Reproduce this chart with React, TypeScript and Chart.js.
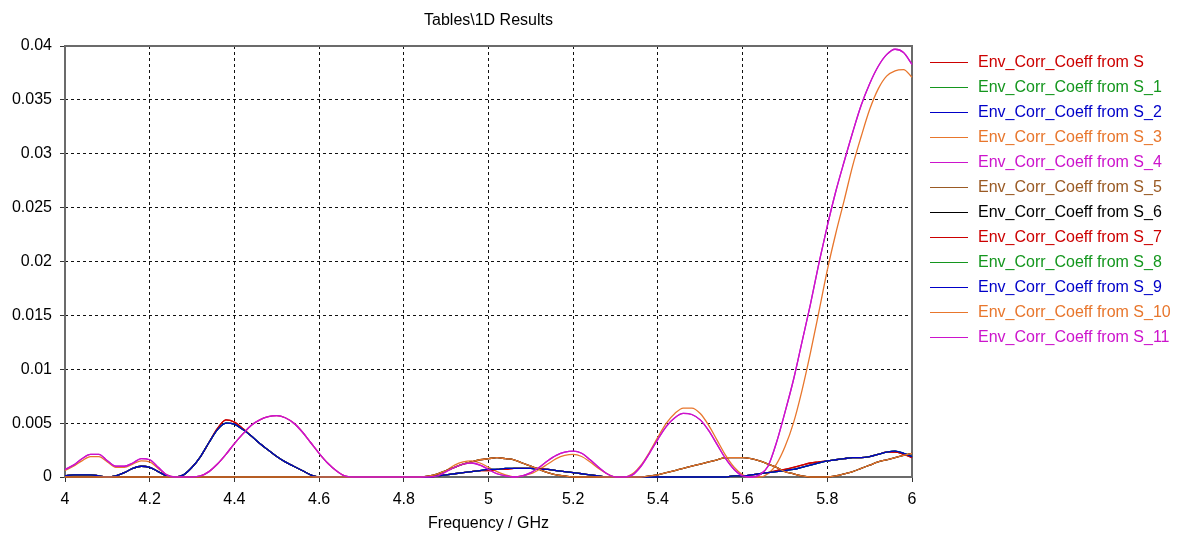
import React, { useEffect, useRef } from 'react';
import { Chart, registerables } from 'chart.js';

Chart.register(...registerables);

const TITLE = 'Tables\\1D Results';
const X_TITLE = 'Frequency / GHz';

const FREQ_GHZ = [
  4.0, 4.02, 4.04, 4.06, 4.08, 4.1, 4.12, 4.14, 4.16, 4.18,
  4.2, 4.22, 4.24, 4.26, 4.28, 4.3, 4.32, 4.34, 4.36, 4.38,
  4.4, 4.42, 4.44, 4.46, 4.48, 4.5, 4.52, 4.54, 4.56, 4.58,
  4.6, 4.62, 4.64, 4.66, 4.68, 4.7, 4.72, 4.74, 4.76, 4.78,
  4.8, 4.82, 4.84, 4.86, 4.88, 4.9, 4.92, 4.94, 4.96, 4.98,
  5.0, 5.02, 5.04, 5.06, 5.08, 5.1, 5.12, 5.14, 5.16, 5.18,
  5.2, 5.22, 5.24, 5.26, 5.28, 5.3, 5.32, 5.34, 5.36, 5.38,
  5.4, 5.42, 5.44, 5.46, 5.48, 5.5, 5.52, 5.54, 5.56, 5.58,
  5.6, 5.62, 5.64, 5.66, 5.68, 5.7, 5.72, 5.74, 5.76, 5.78,
  5.8, 5.82, 5.84, 5.86, 5.88, 5.9, 5.92, 5.94, 5.96, 5.98,
  6.0,
];

const ECC_MAGENTA = [
  0.0007, 0.0011, 0.0017, 0.0021, 0.0021, 0.0015, 0.0010, 0.0010, 0.0013, 0.0017,
  0.0016, 0.0009, 0.0002, 0, 0, 0, 0.0001, 0.0005, 0.0012, 0.0021,
  0.0031, 0.0040, 0.0048, 0.0053, 0.0056, 0.0057, 0.0055, 0.0050, 0.0042, 0.0032,
  0.0022, 0.0013, 0.0006, 0.0001, 0, 0, 0, 0, 0, 0,
  0, 0, 0, 0, 0.0001, 0.0005, 0.0009, 0.0012, 0.0013, 0.0011,
  0.0007, 0.0003, 0.0001, 0, 0.0001, 0.0004, 0.0009, 0.0015, 0.0020, 0.0023,
  0.0024, 0.0022, 0.0016, 0.0009, 0.0003, 0, 0, 0.0002, 0.0010, 0.0022,
  0.0035, 0.0047, 0.0055, 0.0059, 0.0058, 0.0053, 0.0043, 0.0030, 0.0017, 0.0007,
  0.0001, 0, 0.0002, 0.0010, 0.0032, 0.0060, 0.0090, 0.0125, 0.0160, 0.0198,
  0.0233, 0.0265, 0.0293, 0.0320, 0.0345, 0.0365, 0.0381, 0.0392, 0.0397, 0.0394,
  0.0383,
];

const ECC_ORANGE = [
  0.0006, 0.0010, 0.0015, 0.0019, 0.0019, 0.0014, 0.0009, 0.0009, 0.0012, 0.0015,
  0.0014, 0.0008, 0.0002, 0, 0, 0, 0.0001, 0.0005, 0.0012, 0.0021,
  0.0031, 0.0040, 0.0048, 0.0053, 0.0056, 0.0057, 0.0055, 0.0050, 0.0042, 0.0032,
  0.0022, 0.0013, 0.0006, 0.0001, 0, 0, 0, 0, 0, 0,
  0, 0, 0, 0, 0.0002, 0.0006, 0.0011, 0.0014, 0.0015, 0.0013,
  0.0009, 0.0005, 0.0002, 0, 0.0001, 0.0003, 0.0007, 0.0012, 0.0017, 0.0020,
  0.0021, 0.0019, 0.0014, 0.0008, 0.0003, 0, 0, 0.0003, 0.0011, 0.0023,
  0.0037, 0.0050, 0.0059, 0.0064, 0.0064, 0.0059, 0.0048, 0.0034, 0.0020, 0.0009,
  0.0002, 0, 0, 0.0003, 0.0012, 0.0028, 0.0050, 0.0080, 0.0115, 0.0153,
  0.0192, 0.0226, 0.0257, 0.0289, 0.0316, 0.0341, 0.0360, 0.0372, 0.0377, 0.0378,
  0.0371,
];

const ECC_RED = [
  0.0001, 0.0002, 0.0002, 0.0002, 0.0001, 0, 0.0001, 0.0004, 0.0008, 0.0010,
  0.0009, 0.0005, 0.0001, 0, 0.0002, 0.0009, 0.0019, 0.0032, 0.0045, 0.0053,
  0.0051, 0.0045, 0.0038, 0.0031, 0.0025, 0.0019, 0.0014, 0.0010, 0.0006, 0.0002,
  0, 0, 0, 0, 0, 0, 0, 0, 0, 0,
  0, 0, 0, 0, 0.0001, 0.0002, 0.0003, 0.0004, 0.0005, 0.0006,
  0.0006, 0.0007, 0.0007, 0.0008, 0.0008, 0.0008, 0.0008, 0.0007, 0.0006, 0.0005,
  0.0004, 0.0003, 0.0002, 0.0001, 0, 0, 0, 0, 0, 0,
  0, 0, 0, 0, 0, 0, 0, 0, 0, 0.0001,
  0.0001, 0.0002, 0.0003, 0.0004, 0.0006, 0.0007, 0.0009, 0.0011, 0.0013, 0.0014,
  0.0015, 0.0016, 0.0017, 0.0018, 0.0018, 0.0019, 0.0021, 0.0023, 0.0023, 0.0021,
  0.0018,
];

const ECC_BLUE = [
  0.0001, 0.0002, 0.0002, 0.0002, 0.0001, 0, 0.0001, 0.0004, 0.0008, 0.0010,
  0.0009, 0.0005, 0.0001, 0, 0.0002, 0.0009, 0.0019, 0.0032, 0.0044, 0.0050,
  0.0049, 0.0044, 0.0038, 0.0031, 0.0025, 0.0019, 0.0014, 0.0010, 0.0006, 0.0002,
  0, 0, 0, 0, 0, 0, 0, 0, 0, 0,
  0, 0, 0, 0, 0.0001, 0.0002, 0.0003, 0.0004, 0.0005, 0.0006,
  0.0007, 0.0007, 0.0008, 0.0008, 0.0008, 0.0008, 0.0007, 0.0007, 0.0006, 0.0005,
  0.0004, 0.0003, 0.0002, 0.0001, 0, 0, 0, 0, 0, 0,
  0, 0, 0, 0, 0, 0, 0, 0, 0, 0.0001,
  0.0001, 0.0002, 0.0003, 0.0004, 0.0005, 0.0006, 0.0007, 0.0009, 0.0011, 0.0013,
  0.0015, 0.0016, 0.0017, 0.0018, 0.0018, 0.0019, 0.0021, 0.0023, 0.0024, 0.0022,
  0.0019,
];

const ECC_BROWN = [
  0, 0, 0, 0, 0, 0, 0, 0, 0, 0,
  0, 0, 0, 0, 0, 0, 0, 0, 0, 0,
  0, 0, 0, 0, 0, 0, 0, 0, 0, 0,
  0, 0, 0, 0, 0, 0, 0, 0, 0, 0,
  0, 0, 0, 0.0001, 0.0003, 0.0006, 0.0009, 0.0012, 0.0014, 0.0016,
  0.0017, 0.0018, 0.0017, 0.0016, 0.0013, 0.0010, 0.0007, 0.0004, 0.0002, 0.0001,
  0, 0, 0, 0, 0, 0, 0, 0, 0, 0.0001,
  0.0002, 0.0004, 0.0006, 0.0008, 0.0010, 0.0012, 0.0014, 0.0016, 0.0018, 0.0018,
  0.0018, 0.0017, 0.0015, 0.0012, 0.0009, 0.0005, 0.0003, 0.0001, 0, 0,
  0, 0.0001, 0.0003, 0.0005, 0.0008, 0.0011, 0.0014, 0.0016, 0.0018, 0.0020,
  0.0022,
];

const SERIES_NAMES = [
  'Env_Corr_Coeff from S',
  'Env_Corr_Coeff from S_1',
  'Env_Corr_Coeff from S_2',
  'Env_Corr_Coeff from S_3',
  'Env_Corr_Coeff from S_4',
  'Env_Corr_Coeff from S_5',
  'Env_Corr_Coeff from S_6',
  'Env_Corr_Coeff from S_7',
  'Env_Corr_Coeff from S_8',
  'Env_Corr_Coeff from S_9',
  'Env_Corr_Coeff from S_10',
  'Env_Corr_Coeff from S_11',
];

const SERIES_VALUES = [
  ECC_RED, ECC_BLUE, ECC_BLUE, ECC_ORANGE, ECC_MAGENTA, ECC_BROWN,
  ECC_BROWN, ECC_RED, ECC_BLUE, ECC_BLUE, ECC_BROWN, ECC_MAGENTA,
];

const SERIES_COLORS = [
  '#cc0000', '#14961e', '#0000c8', '#e8762c', '#cc14cc', '#9a5a24',
  '#000000', '#cc0000', '#14961e', '#0000c8', '#e8762c', '#cc14cc',
];

const FONT = "'Liberation Sans', Arial, sans-serif";

const overlayPlugin = {
  id: 'overlay',
  beforeDatasetsDraw(chart: any) {
    const { ctx, chartArea } = chart;
    const { left, right, top, bottom } = chartArea;
    ctx.save();
    ctx.strokeStyle = '#6b6b6b';
    ctx.lineWidth = 2;
    ctx.setLineDash([]);
    ctx.strokeRect(left, top, right - left, bottom - top);
    ctx.restore();
  },
  afterDraw(chart: any) {
    const { ctx, chartArea } = chart;
    const { left, right } = chartArea;
    ctx.save();
    ctx.fillStyle = '#000';
    ctx.font = `16px ${FONT}`;
    ctx.textAlign = 'center';
    ctx.textBaseline = 'middle';
    ctx.fillText(TITLE, (left + right) / 2, 21);
    ctx.fillText(X_TITLE, (left + right) / 2, 524);
    ctx.textAlign = 'left';
    SERIES_NAMES.forEach((name, i) => {
      const y = 62 + 25 * i;
      ctx.strokeStyle = SERIES_COLORS[i];
      ctx.lineWidth = 1;
      ctx.beginPath();
      ctx.moveTo(930, y + 0.5);
      ctx.lineTo(968, y + 0.5);
      ctx.stroke();
      ctx.fillStyle = SERIES_COLORS[i];
      ctx.fillText(name, 978, y + 1);
    });
    ctx.restore();
  },
};

export default function App() {
  const canvasRef = useRef<HTMLCanvasElement>(null);

  useEffect(() => {
    const canvas = canvasRef.current;
    if (!canvas) return;
    const datasets = SERIES_NAMES.map((name, i) => ({
      label: name,
      data: FREQ_GHZ.map((f, k) => ({ x: f, y: SERIES_VALUES[i][k] })),
      borderColor: SERIES_COLORS[i],
      backgroundColor: SERIES_COLORS[i],
      borderWidth: 1.3,
      pointRadius: 0,
      fill: false,
      clip: 2,
      cubicInterpolationMode: 'monotone' as const,
      order: SERIES_NAMES.length - i,
    }));

    const chart = new Chart(canvas, {
      type: 'line',
      data: { datasets },
      options: {
        animation: false,
        responsive: false,
        devicePixelRatio: 1,
        layout: { padding: { top: 46, right: 266, bottom: 0, left: 0 } },
        plugins: {
          legend: { display: false },
          title: { display: false },
          tooltip: { enabled: false },
        },
        scales: {
          x: {
            type: 'linear',
            min: 4,
            max: 6,
            afterFit: (s: any) => { s.height = 56; },
            ticks: {
              stepSize: 0.2,
              color: '#000',
              font: { family: FONT, size: 16 },
              padding: 8,
              maxRotation: 0,
              autoSkip: false,
              callback: (v: any) => String(Number(Number(v).toFixed(1))),
            },
            grid: {
              color: '#111',
              lineWidth: 1,
              drawTicks: true,
              tickLength: 5,
              tickColor: '#333',
              tickWidth: 1,
            },
            border: { display: false, dash: [3, 3] },
          },
          y: {
            type: 'linear',
            min: 0,
            max: 0.04,
            afterFit: (s: any) => { s.width = 65; },
            ticks: {
              stepSize: 0.005,
              color: '#000',
              font: { family: FONT, size: 16 },
              padding: 8,
              autoSkip: false,
              callback: (v: any) => String(Number(Number(v).toFixed(3))),
            },
            grid: {
              color: '#111',
              lineWidth: 1,
              drawTicks: true,
              tickLength: 5,
              tickColor: '#333',
              tickWidth: 1,
            },
            border: { display: false, dash: [3, 3] },
          },
        },
      },
      plugins: [overlayPlugin],
    });
    return () => chart.destroy();
  }, []);

  return (
    <div style={{ position: 'fixed', left: 0, top: 0, width: 1178, height: 533, background: '#fff' }}>
      <canvas ref={canvasRef} width={1178} height={533} style={{ display: 'block', width: 1178, height: 533 }} />
    </div>
  );
}
